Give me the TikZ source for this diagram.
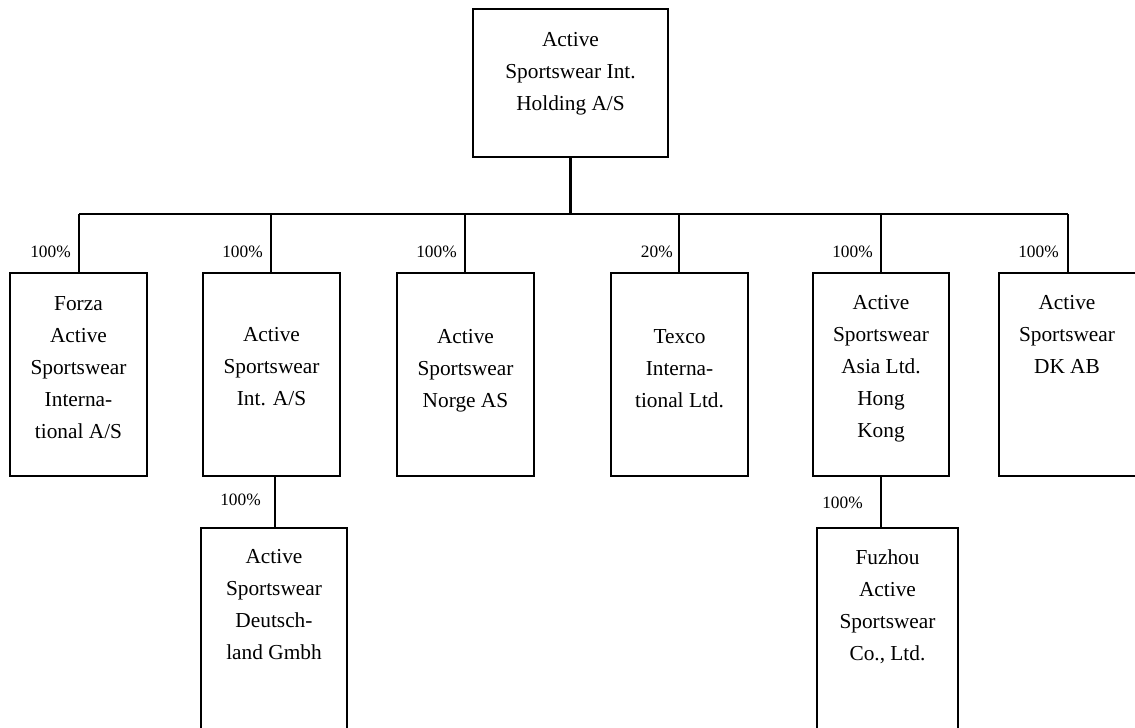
\documentclass[tikz,border=0pt]{standalone}
\usepackage{fontspec}
\setmainfont{Liberation Serif}
\usetikzlibrary{fit}
\begin{document}
\begin{tikzpicture}[x=0.75pt,y=-0.75pt,
  box/.style={draw, line width=1.4pt, inner sep=0pt},
  txt/.style={anchor=north, align=center, inner sep=0pt, font=\fontsize{16}{24}\selectfont},
  pct/.style={anchor=base east, inner sep=0pt, font=\fontsize{13}{15}\selectfont},
  link/.style={line width=1.4pt},
  trunk/.style={line width=2.4pt}]
\useasboundingbox (0,0) rectangle (1135,728);
\clip (0,0) rectangle (1135,728);
% boxes
\node[box, fit={(473,9) (668,157)}] (top) {};
\node[box, fit={(10,273) (147,476)}] (forza) {};
\node[box, fit={(203,273) (340,476)}] (intas) {};
\node[box, fit={(397,273) (534,476)}] (norge) {};
\node[box, fit={(611,273) (748,476)}] (texco) {};
\node[box, fit={(813,273) (949,476)}] (asia) {};
\node[box, fit={(999,273) (1137,476)}] (dkab) {};
\node[box, fit={(201,528) (347,740)}] (deutsch) {};
\node[box, fit={(817,528) (958,740)}] (fuzhou) {};
% texts
\node[txt] (topt) at (570.5,32.5) {Active\\Sportswear Int.\\Holding A/S};
\node[txt] (forzat) at (78.5,296.5) {Forza\\Active\\Sportswear\\Interna-\\tional A/S};
\node[txt] (intast) at (271.5,327.5) {Active\\Sportswear\\Int. A/S};
\node[txt] (norget) at (465.5,329.5) {Active\\Sportswear\\Norge AS};
\node[txt] (texcot) at (679.5,329.5) {Texco\\Interna-\\tional Ltd.};
\node[txt] (asiat) at (881,295.5) {Active\\Sportswear\\Asia Ltd.\\Hong\\Kong};
\node[txt] (dkabt) at (1067,295.5) {Active\\Sportswear\\DK AB};
\node[txt] (deutscht) at (274,549.5) {Active\\Sportswear\\Deutsch-\\land Gmbh};
\node[txt] (fuzhout) at (887.5,549.5) {Fuzhou\\Active\\Sportswear\\Co., Ltd.};
% connectors
\coordinate (d1) at (79,214);
\coordinate (d2) at (271,214);
\coordinate (d3) at (465,214);
\coordinate (d4) at (679,214);
\coordinate (d5) at (881,214);
\coordinate (d6) at (1068,214);
\coordinate (c1) at (275,476);
\coordinate (c2) at (881,476);
\draw[trunk] (top.south) -- (top.south |- d1);
\draw[link, line width=1.7pt] (d1) -- (d6);
\draw[link] (d1) -- (d1 |- forza.north);
\draw[link] (d2) -- (d2 |- intas.north);
\draw[link] (d3) -- (d3 |- norge.north);
\draw[link] (d4) -- (d4 |- texco.north);
\draw[link] (d5) -- (d5 |- asia.north);
\draw[link] (d6) -- (d6 |- dkab.north);
\draw[link] (c1) -- (c1 |- deutsch.north);
\draw[link] (c2) -- (c2 |- fuzhou.north);
% percentages
\node[pct] (p1) at (71,257) {100\%};
\node[pct] (p2) at (263,257) {100\%};
\node[pct] (p3) at (457,257) {100\%};
\node[pct] (p4) at (673,257) {20\%};
\node[pct] (p5) at (873,257) {100\%};
\node[pct] (p6) at (1059,257) {100\%};
\node[pct] (p7) at (261,505) {100\%};
\node[pct] (p8) at (863,508) {100\%};
\end{tikzpicture}
\end{document}
